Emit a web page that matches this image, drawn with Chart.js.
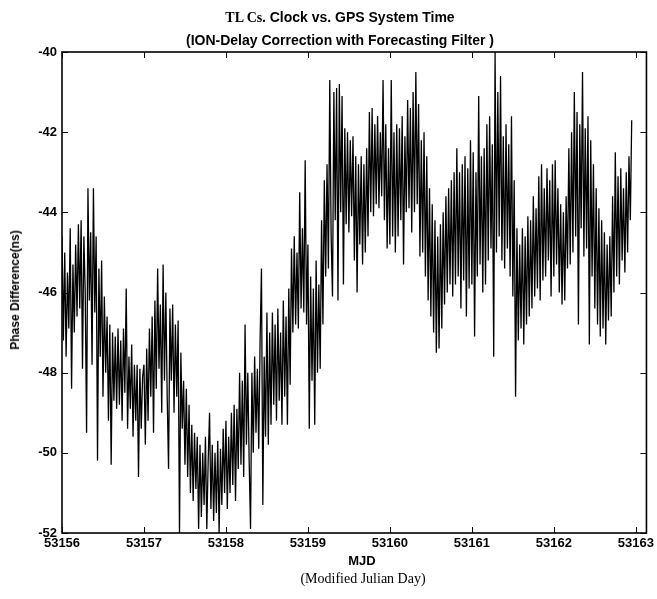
<!DOCTYPE html>
<html>
<head>
<meta charset="utf-8">
<script src="https://cdn.jsdelivr.net/npm/chart.js@4"></script>
<style>
    body { margin: 0; background: #fff; }
    #wrap { position: relative; width: 657px; height: 599px; }
    #wrap canvas { position: absolute; left: 0; top: 0; }
    .txt { position: absolute; color: #000; white-space: nowrap; font-family: "Liberation Sans", Arial, sans-serif; font-weight: bold; }
    .serif { font-family: "Liberation Serif", "Times New Roman", serif; }
    #title1 { left: 340px; top: 9px; font-size: 14px; transform: translateX(-50%); }
    #title2 { left: 340px; top: 32px; font-size: 14px; transform: translateX(-50%); }
    #ylab { left: 15px; top: 290px; font-size: 12px; transform: translate(-50%, -50%) rotate(-90deg); }
    #xlab { left: 362px; top: 553px; font-size: 13px; transform: translateX(-50%); }
    #xsub { left: 363px; top: 571px; font-size: 14px; font-weight: normal; transform: translateX(-50%); }
</style>
</head>
<body>
<div id="wrap">
    <canvas id="clockChart" width="657" height="599"></canvas>
    <div class="txt" id="title1"><span class="serif">TL Cs.</span> Clock vs. GPS System Time</div>
    <div class="txt" id="title2">(ION-Delay Correction with Forecasting Filter )</div>
    <div class="txt" id="ylab">Phase Difference(ns)</div>
    <div class="txt" id="xlab">MJD</div>
    <div class="txt serif" id="xsub">(Modified Julian Day)</div>
</div>
<script>
// phase difference (ns), 60 samples per day
const day53156 = [
    -44.6, -47.2, -45.0, -47.6, -45.5, -46.9,
    -44.4, -48.4, -45.3, -47.0, -44.8, -46.6,
    -44.3, -46.4, -44.2, -47.9, -44.6, -46.0,
    -49.5, -43.4, -46.2, -44.5, -47.8, -43.4,
    -46.5, -44.6, -50.2, -45.4, -47.6, -45.2,
    -48.6, -46.1, -48.0, -46.6, -49.2, -46.8,
    -50.3, -47.0, -48.7, -47.1, -48.9, -46.9,
    -48.8, -47.2, -49.2, -46.9, -48.5, -45.9,
    -49.4, -47.6, -48.9, -47.3, -49.6, -47.8,
    -49.2, -47.8, -50.6, -47.9, -49.4, -48.1
];
const day53157 = [
    -47.8, -49.8, -47.4, -49.2, -46.9, -48.6,
    -46.6, -49.5, -46.2, -48.4, -45.4, -47.9,
    -46.3, -49.0, -45.3, -48.2, -46.0, -48.6,
    -50.4, -46.4, -48.2, -46.3, -49.0, -46.8,
    -48.6, -46.7, -52.0, -47.5, -49.4, -48.2,
    -50.3, -48.4, -50.6, -48.8, -51.0, -49.3,
    -51.2, -49.5, -50.9, -49.6, -51.9, -49.8,
    -51.6, -50.0, -51.3, -49.6, -51.9, -50.2,
    -49.0, -51.4, -49.8, -51.7, -50.0, -51.5,
    -49.7, -52.0, -49.9, -51.3, -49.4, -51.0
];
const day53158 = [
    -49.2, -51.4, -49.6, -51.0, -49.0, -50.8,
    -48.8, -51.2, -48.9, -50.4, -48.0, -50.3,
    -48.2, -50.6, -46.8, -49.8, -48.0, -50.2,
    -51.9, -48.0, -50.0, -47.6, -49.5, -47.9,
    -49.9, -47.2, -45.4, -51.3, -47.6, -49.6,
    -46.5, -49.8, -47.0, -49.3, -46.5, -48.8,
    -46.8, -49.2, -46.4, -48.7, -47.0, -49.3,
    -46.2, -48.6, -46.6, -49.3, -45.9, -48.3,
    -44.9, -47.0, -44.6, -46.8, -45.0, -46.9,
    -43.5, -46.4, -44.4, -46.5, -42.7, -46.8
];
const day53159 = [
    -44.8, -49.4, -45.6, -48.2, -45.9, -49.3,
    -45.2, -48.0, -45.8, -47.9, -44.2, -46.8,
    -43.2, -45.6, -42.8, -45.4, -40.7, -44.6,
    -46.1, -41.0, -44.2, -40.9, -46.2, -40.8,
    -44.0, -41.1, -45.8, -41.9, -44.3, -42.0,
    -44.5, -42.2, -44.1, -42.1, -45.2, -42.6,
    -46.0, -42.8, -44.8, -42.6, -45.3, -42.8,
    -45.0, -42.4, -44.6, -41.5, -44.0, -41.4,
    -44.1, -41.8, -43.8, -41.6, -43.9, -42.0,
    -43.6, -40.7, -44.2, -41.8, -44.9, -42.4
];
const day53160 = [
    -44.8, -40.7, -44.6, -42.0, -45.0, -41.8,
    -44.6, -41.9, -44.2, -41.6, -45.3, -42.1,
    -44.0, -41.2, -43.9, -41.4, -44.5, -41.0,
    -44.0, -40.5, -43.8, -41.3, -45.1, -42.2,
    -45.0, -42.0, -45.6, -42.6, -46.2, -43.4,
    -46.6, -43.8, -47.0, -44.2, -47.5, -44.6,
    -47.4, -44.3, -46.9, -44.0, -46.3, -43.6,
    -46.0, -43.4, -45.8, -43.2, -46.1, -43.0,
    -45.8, -42.4, -45.6, -43.0, -46.4, -42.8,
    -45.7, -42.6, -46.6, -42.9, -45.9, -42.2
];
const day53161 = [
    -45.8, -42.5, -47.1, -43.0, -45.6, -41.1,
    -45.3, -42.6, -46.0, -42.4, -45.8, -41.8,
    -45.2, -41.6, -44.9, -42.3, -47.6, -40.0,
    -45.0, -41.0, -44.6, -40.6, -45.2, -42.1,
    -45.4, -41.8, -44.9, -42.3, -45.6, -41.6,
    -46.1, -43.2, -48.6, -44.4, -47.2, -44.8,
    -46.9, -44.4, -47.3, -44.6, -46.8, -44.1,
    -46.6, -44.2, -46.4, -43.6, -46.1, -43.9,
    -45.9, -43.1, -46.2, -42.8, -45.7, -43.4,
    -45.6, -42.9, -45.2, -43.2, -46.1, -42.8
];
const day53162 = [
    -45.6, -42.7, -45.3, -43.4, -46.0, -43.8,
    -46.3, -44.0, -46.2, -43.6, -45.4, -42.4,
    -45.3, -42.0, -45.0, -41.0, -44.6, -41.5,
    -46.8, -41.8, -44.4, -40.5, -45.1, -41.9,
    -44.9, -41.6, -47.3, -42.2, -45.6, -42.8,
    -46.4, -43.4, -46.8, -43.9, -47.1, -44.2,
    -46.9, -44.5, -47.3, -44.8, -46.7, -44.6,
    -46.6, -43.6, -46.0, -42.5, -45.6, -43.1,
    -45.8, -42.9, -45.2, -43.4, -45.5, -43.0,
    -45.0, -42.6, -44.2, -41.7
];

const xTicks = [53156, 53157, 53158, 53159, 53160, 53161, 53162, 53163];
const yTicks = [-52, -50, -48, -46, -44, -42, -40];

const mjdStart = 53156;
const samplesPerDay = 60;

function buildPoints() {
    const values = [].concat(day53156, day53157, day53158, day53159, day53160, day53161, day53162);
    return values.map((v, i) => ({ x: mjdStart + i / samplesPerDay, y: v }));
}

// caixa com ticks para dentro, estilo matlab
const boxPlugin = {
    id: 'box',
    afterDatasetsDraw(chart) {
        const { ctx, chartArea: a, scales: { x, y } } = chart;
        const len = 6;
        ctx.save();
        ctx.strokeStyle = '#000';
        ctx.lineWidth = 1;
        ctx.beginPath();
        xTicks.forEach(v => {
            const px = Math.round(x.getPixelForValue(v)) + 0.5;
            ctx.moveTo(px, a.bottom); ctx.lineTo(px, a.bottom - len);
            ctx.moveTo(px, a.top); ctx.lineTo(px, a.top + len);
        });
        yTicks.forEach(v => {
            const py = Math.round(y.getPixelForValue(v)) + 0.5;
            ctx.moveTo(a.left, py); ctx.lineTo(a.left + len, py);
            ctx.moveTo(a.right, py); ctx.lineTo(a.right - len, py);
        });
        ctx.stroke();
        ctx.lineWidth = 1.6;
        ctx.strokeRect(a.left, a.top, a.right - a.left, a.bottom - a.top);
        ctx.restore();
    }
};

function renderClockChart() {
    const ctx = document.getElementById('clockChart');

    new Chart(ctx, {
        type: 'line',
        data: {
            datasets: [{
                data: buildPoints(),
                borderColor: '#000',
                borderWidth: 1.3,
                pointRadius: 0,
                tension: 0,
                fill: false
            }]
        },
        options: {
            responsive: false,
            animation: false,
            devicePixelRatio: 1,
            layout: { padding: { top: 52, right: 7, left: 0, bottom: 0 } },
            plugins: {
                legend: { display: false },
                tooltip: { enabled: false }
            },
            scales: {
                x: {
                    type: 'linear',
                    min: 53156,
                    max: 53163.13,
                    afterFit: s => { s.height = 66; },
                    afterBuildTicks: s => { s.ticks = xTicks.map(v => ({ value: v })); },
                    grid: { display: false, drawTicks: false },
                    border: { display: false },
                    ticks: {
                        padding: 3,
                        maxRotation: 0,
                        autoSkip: false,
                        color: '#000',
                        font: { family: 'Liberation Sans', size: 13, weight: 'bold' },
                        callback: v => String(v)
                    }
                },
                y: {
                    min: -52,
                    max: -40,
                    afterFit: s => { s.width = 62; },
                    afterBuildTicks: s => { s.ticks = yTicks.map(v => ({ value: v })); },
                    grid: { display: false, drawTicks: false },
                    border: { display: false },
                    ticks: {
                        padding: 5,
                        color: '#000',
                        font: { family: 'Liberation Sans', size: 13, weight: 'bold' },
                        callback: v => String(v)
                    }
                }
            }
        },
        plugins: [boxPlugin]
    });
}

renderClockChart();
</script>
</body>
</html>
